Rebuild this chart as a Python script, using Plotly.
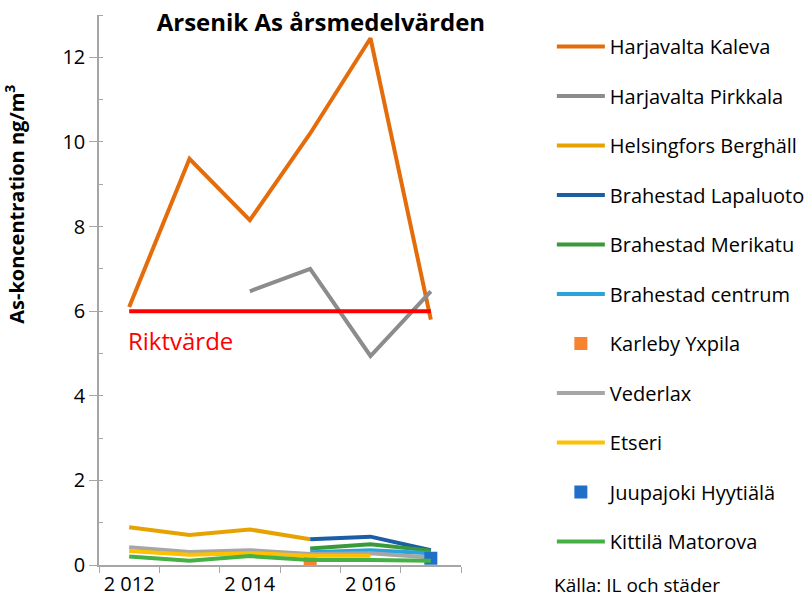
import plotly.graph_objects as go

FONT = "Open Sans"
GRAY_AXIS = "#a6a6a6"

years = [2012, 2013, 2014, 2015, 2016, 2017]

series_names = [
    "Harjavalta Kaleva", "Harjavalta Pirkkala", "Helsingfors Berghäll",
    "Brahestad Lapaluoto", "Brahestad Merikatu", "Brahestad centrum",
    "Karleby Yxpila", "Vederlax", "Etseri", "Juupajoki Hyytiälä",
    "Kittilä Matorova",
]
kaleva = [6.1, 9.6, 8.15, 10.2, 12.45, 5.8]
pirkkala = [None, None, 6.47, 7.0, 4.94, 6.47]
berghall = [0.89, 0.71, 0.84, 0.61, None, None]
lapaluoto = [None, None, None, 0.61, 0.67, 0.35]
merikatu = [None, None, None, 0.39, 0.49, 0.34]
centrum = [None, None, None, 0.30, 0.35, 0.28]
yxpila = [None, None, None, 0.14, None, None]
vederlax = [0.42, 0.31, 0.35, 0.26, 0.28, 0.18]
etseri = [0.33, 0.24, 0.28, 0.22, 0.22, None]
hyytiala = [None, None, None, None, None, 0.16]
matorova = [0.20, 0.10, 0.21, 0.12, 0.12, 0.10]

riktvarde = [6, 6, 6, 6, 6, 6]

x_tickvals = [2012, 2014, 2016]
x_ticktext = ["2 012", "2 014", "2 016"]

values = [kaleva, pirkkala, berghall, lapaluoto, merikatu, centrum,
          yxpila, vederlax, etseri, hyytiala, matorova]
colors = ["#e46c0a", "#8c8c8c", "#e6a300", "#1a5ea6", "#3a9a3a", "#2aa2dc",
          "#f7822f", "#a6a6a6", "#ffc000", "#1f6fc9", "#46b046"]
is_marker = [False, False, False, False, False, False,
             True, False, False, True, False]

fig = go.Figure()

for name, vals, col, mk in zip(series_names, values, colors, is_marker):
    if mk:
        fig.add_trace(go.Scatter(
            x=years, y=vals, name=name, mode="markers",
            marker=dict(symbol="square", size=13, color=col),
            legendgroup=name,
        ))
    else:
        fig.add_trace(go.Scatter(
            x=years, y=vals, name=name, mode="lines",
            line=dict(color=col, width=4),
            legendgroup=name,
        ))

fig.add_trace(go.Scatter(
    x=years, y=riktvarde, mode="lines", showlegend=False,
    line=dict(color="#ff0000", width=4),
))

fig.add_annotation(
    x=2012, y=5.3, text="Riktvärde", showarrow=False,
    xanchor="left", yanchor="middle", xshift=-3,
    font=dict(family=FONT, size=24, color="#ff0000"),
)
fig.add_annotation(
    x=1.251, y=-0.037, xref="paper", yref="paper",
    text="Källa: IL och städer", showarrow=False,
    xanchor="left", yanchor="middle",
    font=dict(family=FONT, size=19, color="#000000"),
)
# y-axis title sits above the centre of the axis in the original
fig.add_annotation(
    x=-0.232, y=0.655, xref="paper", yref="paper",
    text="<b>As-koncentration ng/m<sup>3</sup></b>", showarrow=False,
    textangle=-90, xanchor="center", yanchor="middle",
    font=dict(family=FONT, size=20, color="#000000"),
)

fig.update_layout(
    width=806, height=600,
    paper_bgcolor="white", plot_bgcolor="white",
    font=dict(family=FONT, size=20, color="#000000"),
    margin=dict(l=99, r=345, t=15, b=35, autoexpand=False),
    title=dict(
        text="<b>Arsenik As årsmedelvärden</b>",
        x=0.613, xref="paper", xanchor="center",
        y=0.963, yanchor="middle",
        font=dict(family=FONT, size=24, color="#000000"),
    ),
    xaxis=dict(
        range=[2011.5, 2017.5], automargin=False,
        tickvals=x_tickvals, ticktext=x_ticktext,
        ticks="", showgrid=False, zeroline=False,
        showline=True, linecolor=GRAY_AXIS, linewidth=1.5,
        tickfont=dict(size=20),
        minor=dict(tickmode="linear", tick0=2011.5, dtick=1,
                   ticks="outside", ticklen=6, tickcolor=GRAY_AXIS,
                   showgrid=False),
    ),
    yaxis=dict(
        range=[0, 13], dtick=2, tick0=0, automargin=False,
        ticks="outside", ticklen=8, tickcolor=GRAY_AXIS,
        showgrid=False, zeroline=False,
        showline=True, linecolor=GRAY_AXIS, linewidth=1.5,
        tickfont=dict(size=20),
        minor=dict(tickmode="linear", tick0=0, dtick=1,
                   ticks="inside", ticklen=4, tickcolor=GRAY_AXIS,
                   showgrid=False),
    ),
    legend=dict(
        x=1.251, xanchor="left", y=0.978, yanchor="top",
        tracegroupgap=20.5, itemwidth=48, bgcolor="rgba(0,0,0,0)",
        font=dict(family=FONT, size=20),
    ),
)

# drop the default page margin so the 806x600 figure fills the window
post = (
    "document.body.style.margin='0px';"
    "var gd=document.getElementById('{plot_id}');"
    "Plotly.relayout(gd, {width: 806, height: 600});"
)
fig.write_html("out.html", post_script=post,
               config={"displayModeBar": False})
